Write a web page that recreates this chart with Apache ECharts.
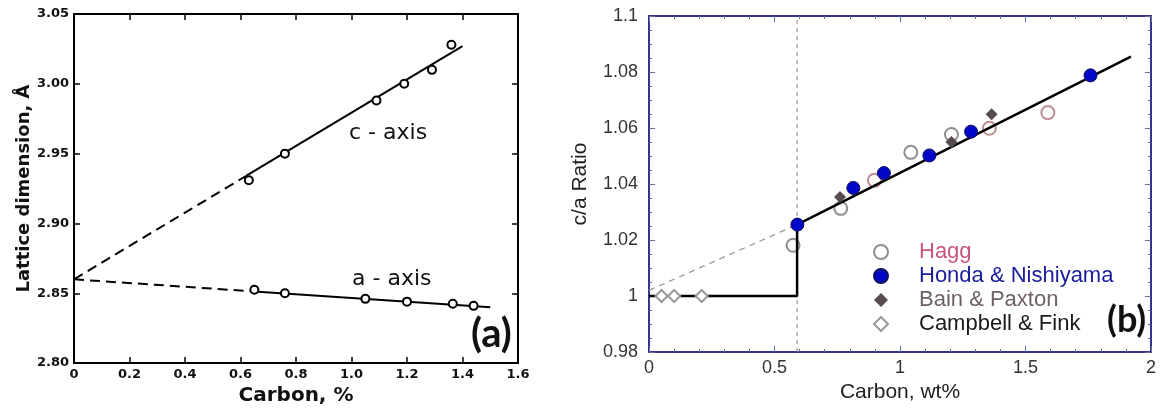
<!DOCTYPE html>
<html>
<head>
<meta charset="utf-8">
<script src="https://cdn.jsdelivr.net/npm/echarts@6/dist/echarts.min.js"></script>
<style>
html,body{margin:0;padding:0;background:#fff;}
#c{width:1160px;height:411px;}
</style>
</head>
<body>
<div id="c"></div>
<script>
// ---------- Panel (a) data ----------
const aXTickLabels = ['0','0.2','0.4','0.6','0.8','1.0','1.2','1.4','1.6'];
const aYTickLabels = ['2.80','2.85','2.90','2.95','3.00','3.05'];
const cAxisPoints = [[0.63,2.931],[0.76,2.950],[1.09,2.988],[1.19,3.000],[1.29,3.010],[1.36,3.028]];
const cAxisFitDashed = [[0,2.860],[0.62,2.934]];
const cAxisFitSolid = [[0.62,2.934],[1.40,3.027]];
const aAxisPoints = [[0.65,2.8525],[0.76,2.850],[1.05,2.846],[1.20,2.844],[1.365,2.8425],[1.44,2.841]];
const aAxisFitDashed = [[0,2.860],[0.65,2.8513]];
const aAxisFitSolid = [[0.65,2.8513],[1.50,2.840]];

// ---------- Panel (b) data ----------
const bXTickLabels = ['0','0.5','1','1.5','2'];
const bYTickLabels = ['0.98','1','1.02','1.04','1.06','1.08','1.1'];
const haggPoints = [[0.574,1.0181],[0.764,1.0313],[0.898,1.0413],[1.043,1.0513],[1.205,1.0577],[1.356,1.0599],[1.589,1.0655]];
const haggRoseIdx = [2,5,6];
const hondaPoints = [[0.591,1.0255],[0.814,1.0386],[0.936,1.0439],[1.117,1.0502],[1.283,1.0587],[1.759,1.0788]];
const bainPoints = [[0.761,1.0354],[1.205,1.0550],[1.365,1.0649]];
const campbellPoints = [[0.05,1.0],[0.10,1.0],[0.21,1.0]];
const cOverAFit = [[0,1.0],[0.59,1.0],[0.59,1.0255],[1.92,1.0855]];
const cOverAExtrap = [[0,1.002],[0.59,1.0255]];
const transitionLine = [[0.59,0.98],[0.59,1.1]];

const legendNames = ['Hagg','Honda & Nishiyama','Bain & Paxton','Campbell & Fink'];
const legendColors = ['#c8557a','#1c1c9c','#6e6263','#1a1a1a'];

const chart = echarts.init(document.getElementById('c'), null, {renderer:'canvas'});

const fA = 'DejaVu Sans';
const fB = 'Liberation Sans';
const navy = '#34348e';

function boxAxisX(gridIndex, min, max, interval, labels, pos, show, opts){
  return Object.assign({
    type:'value', gridIndex, min, max, interval, position:pos,
    splitLine:{show:false},
    axisLine:{show:true, onZero:false, lineStyle:{color:'#000', width:2}},
    axisTick:{show:true, inside:true, length:6, lineStyle:{color:'#000', width:1.5}},
    axisLabel:{show:show, formatter:v=>labels[Math.round((v-min)/interval)]}
  }, opts||{});
}

const option = {
  animation:false,
  backgroundColor:'#fff',
  grid:[
    {left:74, top:14, width:444, height:350},
    {left:649, top:16, width:502, height:336}
  ],
  xAxis:[
    boxAxisX(0,0,1.6,0.2,aXTickLabels,'bottom',true,{
      name:'Carbon, %', nameLocation:'middle', nameGap:22,
      nameTextStyle:{fontFamily:fA, fontWeight:'bold', fontSize:20, color:'#111'},
      axisLabel:{show:true, margin:5, fontFamily:fA, fontWeight:'bold', fontSize:13, color:'#111',
        formatter:v=>aXTickLabels[Math.round(v/0.2)]}
    }),
    boxAxisX(0,0,1.6,0.2,aXTickLabels,'top',false),
    boxAxisX(1,0,2,0.5,bXTickLabels,'bottom',true,{
      name:'Carbon, wt%', nameLocation:'middle', nameGap:23,
      nameTextStyle:{fontFamily:fB, fontSize:21, color:'#222'},
      axisLine:{show:true, onZero:false, lineStyle:{color:navy, width:2}},
      axisTick:{show:true, inside:true, length:6, lineStyle:{color:'#666a90', width:1}},
      minorTick:{show:true, splitNumber:5, length:3, lineStyle:{color:'#666a90', width:1}},
      axisLabel:{show:true, margin:7, fontFamily:fB, fontSize:18, color:'#333',
        formatter:v=>bXTickLabels[Math.round(v/0.5)]}
    }),
    boxAxisX(1,0,2,0.5,bXTickLabels,'top',false,{
      axisLine:{show:true, onZero:false, lineStyle:{color:navy, width:2}},
      axisTick:{show:true, inside:true, length:6, lineStyle:{color:'#666a90', width:1}},
      minorTick:{show:true, splitNumber:5, length:3, lineStyle:{color:'#666a90', width:1}}
    })
  ],
  yAxis:[
    boxAxisX(0,2.80,3.05,0.05,aYTickLabels,'left',true,{
      name:'Lattice dimension, Å', nameLocation:'middle', nameGap:34, nameRotate:90,
      nameTextStyle:{fontFamily:fA, fontWeight:'bold', fontSize:18, color:'#111'},
      axisLabel:{show:true, margin:5, fontFamily:fA, fontWeight:'bold', fontSize:13, color:'#111',
        formatter:v=>aYTickLabels[Math.round((v-2.80)/0.05)]}
    }),
    boxAxisX(0,2.80,3.05,0.05,aYTickLabels,'right',false),
    boxAxisX(1,0.98,1.1,0.02,bYTickLabels,'left',true,{
      name:'c/a Ratio', nameLocation:'middle', nameGap:58, nameRotate:90,
      nameTextStyle:{fontFamily:fB, fontSize:21, color:'#222'},
      axisLine:{show:true, onZero:false, lineStyle:{color:navy, width:2}},
      axisTick:{show:true, inside:true, length:6, lineStyle:{color:'#666a90', width:1}},
      minorTick:{show:true, splitNumber:4, length:3, lineStyle:{color:'#666a90', width:1}},
      axisLabel:{show:true, margin:11, fontFamily:fB, fontSize:18, color:'#333',
        formatter:v=>bYTickLabels[Math.round((v-0.98)/0.02)]}
    }),
    boxAxisX(1,0.98,1.1,0.02,bYTickLabels,'right',false,{
      axisLine:{show:true, onZero:false, lineStyle:{color:navy, width:2}},
      axisTick:{show:true, inside:true, length:6, lineStyle:{color:'#666a90', width:1}},
      minorTick:{show:true, splitNumber:4, length:3, lineStyle:{color:'#666a90', width:1}}
    })
  ],
  legend:{
    orient:'vertical', left:868, top:236, itemWidth:14, itemHeight:14, itemGap:2,
    selectedMode:false,
    data:legendNames.map((n,i)=>({name:n, textStyle:{color:legendColors[i]}})),
    textStyle:{fontFamily:fB, fontSize:22, padding:[0,0,0,26]}
  },
  graphic:[
    {type:'text', left:349, top:122, style:{text:'c - axis', font:'normal 22px "DejaVu Sans"', fill:'#111'}},
    {type:'text', left:352, top:268, style:{text:'a - axis', font:'normal 22px "DejaVu Sans"', fill:'#111'}},
    {type:'text', left:471, top:314, style:{text:'(a)', font:'bold 40px Lato', fill:'#111'}},
    {type:'text', left:1107, top:302, style:{text:'(b)', font:'bold 36px Lato', fill:'#111'}}
  ],
  series:[
    // panel a
    {type:'line', xAxisIndex:0, yAxisIndex:0, data:cAxisFitDashed, symbol:'none',
      lineStyle:{color:'#000', width:2, type:[10,6]}},
    {type:'line', xAxisIndex:0, yAxisIndex:0, data:cAxisFitSolid, symbol:'none',
      lineStyle:{color:'#000', width:2}},
    {type:'line', xAxisIndex:0, yAxisIndex:0, data:aAxisFitDashed, symbol:'none',
      lineStyle:{color:'#000', width:2, type:[10,6]}},
    {type:'line', xAxisIndex:0, yAxisIndex:0, data:aAxisFitSolid, symbol:'none',
      lineStyle:{color:'#000', width:2}},
    {type:'scatter', xAxisIndex:0, yAxisIndex:0, data:cAxisPoints, symbol:'emptyCircle', symbolSize:8, z:5,
      itemStyle:{color:'#000', borderWidth:1.5, opacity:1}},
    {type:'scatter', xAxisIndex:0, yAxisIndex:0, data:aAxisPoints, symbol:'emptyCircle', symbolSize:8, z:5,
      itemStyle:{color:'#000', borderWidth:1.5, opacity:1}},
    // panel b
    {type:'line', xAxisIndex:2, yAxisIndex:2, data:transitionLine, symbol:'none', z:1,
      lineStyle:{color:'#8a8a8a', width:1, type:[4,4]}},
    {type:'line', xAxisIndex:2, yAxisIndex:2, data:cOverAExtrap, symbol:'none', z:1,
      lineStyle:{color:'#9a9a9a', width:1.3, type:[6,5]}},
    {name:'Hagg', type:'scatter', xAxisIndex:2, yAxisIndex:2, symbol:'emptyCircle', symbolSize:13, z:2,
      itemStyle:{color:'#8f8f8f', borderWidth:1.5, opacity:1},
      data:haggPoints.map((p,i)=>haggRoseIdx.includes(i)?{value:p, itemStyle:{color:'#bd8e93'}}:p)},
    {type:'line', xAxisIndex:2, yAxisIndex:2, data:cOverAFit, symbol:'none', z:3,
      lineStyle:{color:'#000', width:2.5}},
    {name:'Honda & Nishiyama', type:'scatter', xAxisIndex:2, yAxisIndex:2, data:hondaPoints, symbol:'circle', symbolSize:13, z:4,
      itemStyle:{color:'#0008c8', borderColor:'#10105a', borderWidth:1, opacity:1}},
    {name:'Bain & Paxton', type:'scatter', xAxisIndex:2, yAxisIndex:2, data:bainPoints, symbol:'diamond', symbolSize:12, z:4,
      itemStyle:{color:'#564c50', opacity:1}},
    {name:'Campbell & Fink', type:'scatter', xAxisIndex:2, yAxisIndex:2, data:campbellPoints, symbol:'emptyDiamond', symbolSize:12, z:4,
      itemStyle:{color:'#9a9a9a', borderWidth:1.2, opacity:1}}
  ]
};
chart.setOption(option);
</script>
</body>
</html>
